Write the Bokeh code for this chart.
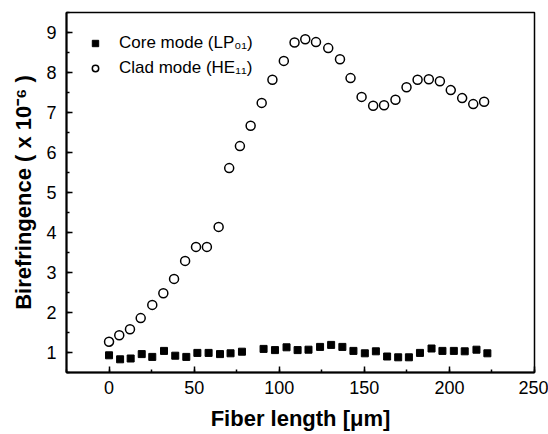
from bokeh.plotting import figure
from bokeh.models import Legend, LegendItem, Range1d, SingleIntervalTicker
from bokeh.embed import file_html
from bokeh.resources import INLINE

# Core mode (LP01) data
core_x = [0, 6.5, 12.7, 19.2, 25.4, 32.3, 38.9, 45.4, 51.9, 58.5, 65.2, 71.4, 78.1,
          90.8, 97.5, 104.3, 110.8, 117.2, 124.0, 130.5, 137.1, 143.6, 150.3, 156.8,
          163.4, 169.9, 176.2, 182.7, 189.5, 195.9, 202.6, 209.0, 215.9, 222.3]
core_y = [0.93, 0.83, 0.85, 0.96, 0.89, 1.04, 0.92, 0.89, 0.99, 0.99, 0.96, 0.98, 1.02,
          1.09, 1.06, 1.13, 1.06, 1.07, 1.14, 1.19, 1.14, 1.04, 0.98, 1.03,
          0.90, 0.88, 0.88, 0.99, 1.10, 1.04, 1.04, 1.03, 1.07, 0.98]

# Clad mode (HE11) data
clad_x = [0, 6.0, 12.3, 18.6, 25.4, 31.9, 38.2, 44.7, 51.1, 57.5, 64.4, 70.6, 76.9,
          83.2, 89.7, 96.0, 102.7, 109.0, 115.3, 121.6, 128.8, 135.7, 141.9, 148.4,
          155.2, 161.6, 168.3, 174.8, 181.3, 187.9, 194.4, 200.8, 207.5, 214.0, 220.4]
clad_y = [1.27, 1.43, 1.58, 1.86, 2.19, 2.48, 2.84, 3.29, 3.64, 3.64, 4.14, 5.61, 6.16,
          6.67, 7.24, 7.82, 8.29, 8.75, 8.83, 8.76, 8.61, 8.33, 7.86, 7.39,
          7.17, 7.18, 7.32, 7.63, 7.82, 7.83, 7.78, 7.56, 7.36, 7.21, 7.27]

labels = ["Core mode (LP\u2080\u2081)", "Clad mode (HE\u2081\u2081)"]
x_label = "Fiber length [\u03bcm]"
y_label = "Birefringence ( x 10\u207b\u2076 )"

FONT = "Liberation Sans"

p = figure(width=548, height=434, output_backend="svg", toolbar_location=None,
           x_range=Range1d(-25, 250), y_range=Range1d(0.5, 9.5),
           min_border_left=66, min_border_right=14, min_border_top=12, min_border_bottom=62)

p.grid.visible = False
p.outline_line_color = "black"
p.outline_line_width = 1.5
p.background_fill_color = "white"
p.border_fill_color = "white"

p.xaxis.ticker = SingleIntervalTicker(interval=50, num_minor_ticks=2)
p.yaxis.ticker = SingleIntervalTicker(interval=1, num_minor_ticks=2)

for ax in (p.xaxis[0], p.yaxis[0]):
    ax.axis_line_width = 2
    ax.axis_line_color = "black"
    ax.major_tick_in = 6
    ax.major_tick_out = 0
    ax.minor_tick_in = 3
    ax.minor_tick_out = 0
    ax.major_tick_line_width = 1.5
    ax.minor_tick_line_width = 1.5
    ax.major_label_text_font = FONT
    ax.major_label_text_font_size = "18px"
    ax.major_label_text_color = "black"
    ax.axis_label_text_font = FONT
    ax.axis_label_text_font_style = "bold"
    ax.axis_label_text_font_size = "22px"
    ax.axis_label_text_color = "black"

p.xaxis.axis_label = x_label
p.yaxis.axis_label = y_label
p.xaxis.major_label_standoff = 8
p.xaxis.axis_label_standoff = 9
p.yaxis.major_label_standoff = 10
p.yaxis.axis_label_standoff = 7

r1 = p.scatter(core_x, core_y, marker="square", size=7, fill_color="black", line_color="black")
r2 = p.scatter(clad_x, clad_y, marker="circle", size=9, fill_color="white",
               line_color="black", line_width=1.5)

legend = Legend(items=[LegendItem(label=labels[0], renderers=[r1]),
                       LegendItem(label=labels[1], renderers=[r2])],
                location="top_left", margin=15, padding=6, spacing=5,
                glyph_width=16, glyph_height=20, label_standoff=16,
                label_text_font=FONT, label_text_font_size="17px",
                label_text_color="black",
                border_line_alpha=0, background_fill_alpha=0)
p.add_layout(legend)

open("out.html", "w").write(file_html(p, INLINE))
